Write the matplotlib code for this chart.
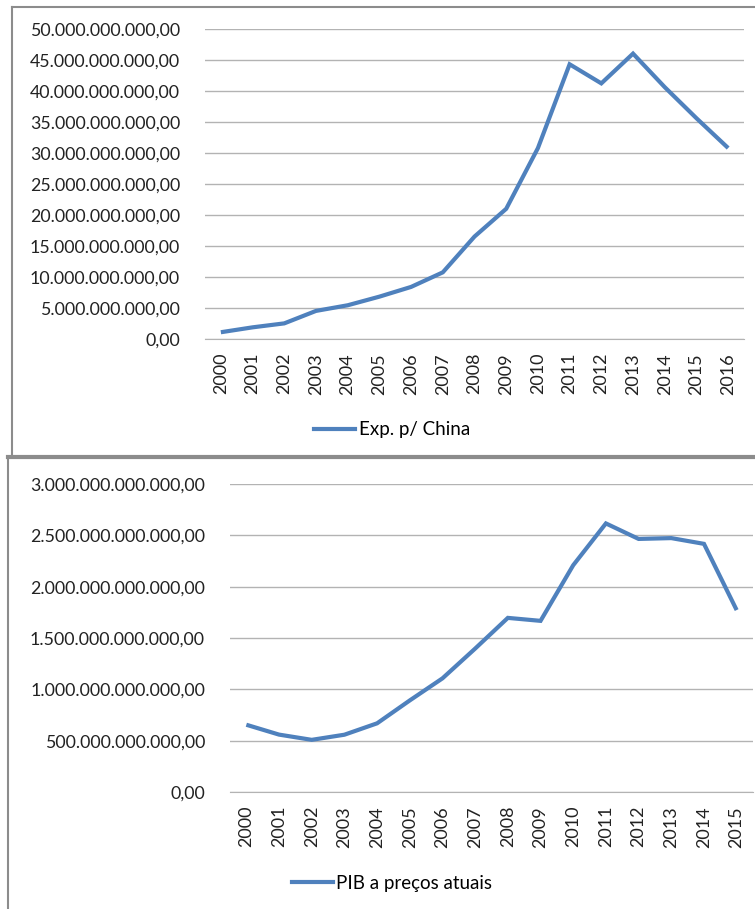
import matplotlib
matplotlib.use("Agg")
import matplotlib.pyplot as plt
from matplotlib.lines import Line2D
from matplotlib.ticker import FuncFormatter

plt.rcParams["font.family"] = ["Lato", "DejaVu Sans"]

anos_exp = [str(a) for a in range(2000, 2017)]
exp_china = [1.09e9, 1.88e9, 2.52e9, 4.53e9, 5.44e9, 6.83e9, 8.40e9, 10.75e9, 16.52e9,
             21.00e9, 30.79e9, 44.31e9, 41.23e9, 46.03e9, 40.62e9, 35.61e9, 30.80e9]

anos_pib = [str(a) for a in range(2000, 2016)]
pib = [655e9, 559e9, 508e9, 558e9, 669e9, 892e9, 1107e9, 1397e9, 1696e9, 1667e9,
       2209e9, 2616e9, 2465e9, 2473e9, 2417e9, 1772e9]

W, H = 755, 909
cor = "#4f81bd"
grade = "#b3b3b3"


def fmt_br(v, pos=None):
    s = f"{v:,.2f}"
    return s.replace(",", "X").replace(".", ",").replace("X", ".")


def painel(rect, anos, valores, ymax, passo, rotulo, leg_y, leg_x):
    ax = fig.add_axes(rect)
    x = list(range(len(anos)))
    ax.plot(x, valores, color=cor, lw=3, solid_capstyle="butt", solid_joinstyle="miter")
    ax.set_xlim(-0.5, len(anos) - 0.5)
    ax.set_ylim(0, ymax)
    ax.set_yticks([i * passo for i in range(int(round(ymax / passo)) + 1)])
    ax.yaxis.set_major_formatter(FuncFormatter(fmt_br))
    ax.set_xticks(x)
    ax.set_xticklabels(anos, rotation=90)
    ax.grid(axis="y", color=grade, lw=1)
    ax.set_axisbelow(True)
    for s in ["top", "right", "left"]:
        ax.spines[s].set_visible(False)
    ax.spines["bottom"].set_color(grade)
    ax.tick_params(axis="y", length=0, pad=18, labelsize=12.8, colors="#222222")
    ax.tick_params(axis="x", length=0, pad=10, labelsize=13, colors="#222222")
    h = [Line2D([0], [0], color=cor, lw=3)]
    ax.legend(h, [rotulo], loc="center", bbox_to_anchor=(leg_x, leg_y),
              bbox_transform=fig.transFigure, frameon=False, fontsize=13.5,
              handlelength=2.2, handletextpad=0.2)
    return ax


fig = plt.figure(figsize=(W / 100, H / 100), dpi=100)

painel([205 / W, 1 - 339 / H, 539 / W, 310 / H], anos_exp, exp_china, 50e9, 5e9,
       "Exp. p/ China", 1 - 430 / H, 392 / W)
painel([230 / W, 1 - 792 / H, 523 / W, 308 / H], anos_pib, pib, 3e12, 0.5e12,
       "PIB a preços atuais", 1 - 883 / H, 392 / W)

# molduras dos dois quadros
borda = "#8c8c8c"
fig.add_artist(Line2D([12 / W, 12 / W], [1 - 7 / H, 1 - 457 / H], color=borda, lw=1.5))
fig.add_artist(Line2D([12 / W, 1], [1 - 7 / H, 1 - 7 / H], color=borda, lw=1.5))
fig.add_artist(Line2D([8 / W, 1], [1 - 457 / H, 1 - 457 / H], color=borda, lw=3))
fig.add_artist(Line2D([8 / W, 8 / W], [1 - 457 / H, 0], color=borda, lw=1.5))

fig.savefig("out.png", dpi=100)
